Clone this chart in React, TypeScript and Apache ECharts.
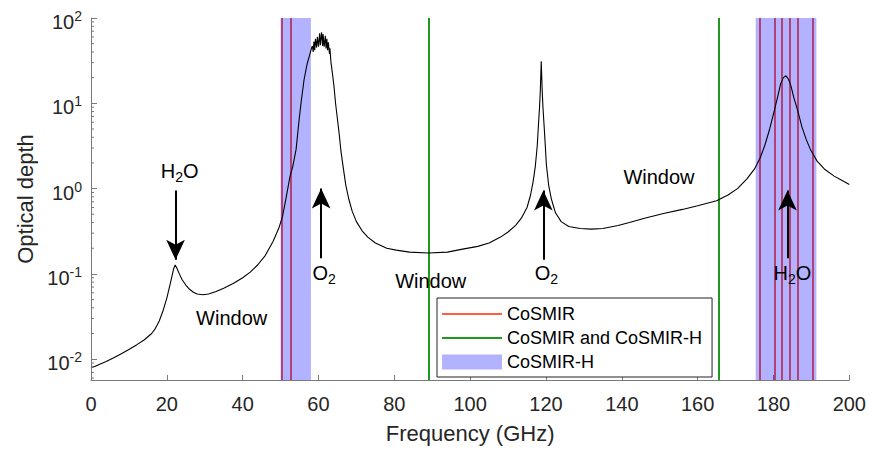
import React, { useEffect, useRef } from 'react';
import * as echarts from 'echarts';

// ---- data ----
const freq = [
  0, 1, 2, 4, 6, 8, 10, 12, 14, 16, 17, 18, 19, 20, 21, 21.8, 22.2, 22.6, 23.3, 24, 25, 26, 27, 28, 29.5, 31, 33, 35, 37.5,
  40, 42, 44, 46, 48, 49.5, 50.5, 51.5, 52.5, 53.2, 54.1, 54.9, 55.5, 56.2, 57, 57.6, 58.2,
  58.4, 58.6, 58.8, 59.0, 59.2, 59.5, 59.7, 60.0, 60.3, 60.5, 60.8, 61.1, 61.2, 61.5, 61.8, 62.0, 62.2, 62.4, 62.6, 62.9, 63.0,
  63.3, 63.7, 64.1, 64.5, 65, 65.5, 65.9, 66.5, 67.2, 68, 68.9, 70, 71.5, 73, 75, 78, 80.5, 84, 89, 94, 98, 102, 105, 108,
  110, 112, 113.5, 115, 115.9, 116.6, 117.2, 117.7, 118.0, 118.3, 118.5, 118.75, 119.0, 119.2, 119.5, 119.8, 120.1, 120.7,
  121.4, 122.5, 124, 126, 129, 132, 135, 139, 142, 146, 151, 156, 160, 165, 168, 170.5, 173, 175, 176.5, 177.7, 179, 180.3,
  181.2, 181.9, 182.6, 183.3, 184, 184.6, 185.4, 186.3, 187.5, 188.6, 189.7, 191.5, 193.4, 196, 198, 200,
];
const tau = [
  0.0080, 0.0082, 0.0086, 0.0094, 0.0104, 0.0116, 0.013, 0.0147, 0.0168, 0.020, 0.023, 0.028, 0.037, 0.052, 0.080, 0.115,
  0.127, 0.118, 0.100, 0.086, 0.074, 0.066, 0.061, 0.058, 0.057, 0.058, 0.062, 0.068, 0.077,
  0.090, 0.105, 0.128, 0.165, 0.24, 0.34, 0.47, 0.8, 1.4, 1.8, 2.9, 6.5, 11, 19, 29, 36, 45,
  47, 40, 53, 42, 57, 45, 60, 46, 66, 48, 68, 47, 65, 46, 62, 44, 57, 42, 52, 38, 44,
  30, 22, 15.5, 10, 6.5, 4.2, 2.8, 1.8, 1.1, 0.75, 0.54, 0.41, 0.32, 0.27, 0.23, 0.20, 0.19, 0.18, 0.176, 0.18, 0.195, 0.21,
  0.23, 0.27, 0.31, 0.37, 0.45, 0.6, 0.83, 1.2, 1.85, 3.2, 5.5, 9, 14, 31, 14, 9, 5.5, 3.3, 1.9, 1.1,
  0.76, 0.52, 0.41, 0.36, 0.34, 0.335, 0.34, 0.37, 0.40, 0.45, 0.51, 0.57, 0.63, 0.72, 0.84, 1.0, 1.3, 1.7, 2.3, 3.2, 5.0, 8.5,
  12.5, 17, 20, 21, 19, 16, 11.5, 8.5, 5.3, 3.8, 2.9, 2.1, 1.7, 1.4, 1.25, 1.12,
];
const cosmirFreqs = [50.3, 52.8, 176.31, 180.31, 182.31, 184.31, 186.31, 190.31];
const sharedFreqs = [89, 165.5];
const cosmirHBandStart = [50, 175.31];
const cosmirHBandEnd = [58, 191.31];
const yMinorTicks = [
  0.006, 0.007, 0.008, 0.009,
  0.02, 0.03, 0.04, 0.05, 0.06, 0.07, 0.08, 0.09,
  0.2, 0.3, 0.4, 0.5, 0.6, 0.7, 0.8, 0.9,
  2, 3, 4, 5, 6, 7, 8, 9,
  20, 30, 40, 50, 60, 70, 80, 90,
];
const arrowX = [22.3, 60.7, 119.3, 183.7];
const arrowFrom = [0.95, 0.153, 0.146, 0.153];
const arrowTo = [0.146, 1.0, 0.95, 0.95];
const labelText = ['{a|H}{s|2}{a|O}', '{a|O}{s|2}', '{a|O}{s|2}', '{a|H}{s|2}{a|O}', '{a|Window}', '{a|Window}', '{a|Window}'];
const labelX = [23.4, 61.5, 120.1, 185, 37.1, 89.6, 149.8];
const labelY = [1.62, 0.103, 0.103, 0.103, 0.0308, 0.083, 1.38];

const FONT = "'Liberation Sans', Arial, Helvetica, sans-serif";
const RED = '#ff5f3a';
const GREEN = '#1f9a1f';
const BAND = 'rgba(0,0,255,0.3)';
const AXIS = '#7a7a7a';
const TXT = '#262626';

export default function App() {
  const ref = useRef<HTMLDivElement>(null);
  useEffect(() => {
    document.body.style.margin = '0';
    const chart = echarts.init(ref.current!, undefined, { renderer: 'svg' });
    const labelRich = {
      a: { fontSize: 20, fontFamily: FONT, color: '#000' },
      s: { fontSize: 14, fontFamily: FONT, color: '#000', padding: [12, 0, 0, 0] },
    };
    chart.setOption({
      animation: false,
      grid: { left: 91, right: 17, top: 18, bottom: 66, containLabel: false },
      legend: {
        left: 437,
        top: 298,
        orient: 'vertical',
        selectedMode: false,
        backgroundColor: '#fff',
        borderColor: '#222',
        borderWidth: 1,
        borderRadius: 0,
        padding: [7, 10, 6, 5],
        itemGap: 6,
        itemWidth: 60,
        itemHeight: 15,
        textStyle: { fontSize: 18, fontFamily: FONT, color: '#000' },
        data: [
          { name: 'CoSMIR', icon: 'path://M0,0H60V2H0Z', itemStyle: { color: RED, borderWidth: 0 } },
          { name: 'CoSMIR and CoSMIR-H', icon: 'path://M0,0H60V2H0Z', itemStyle: { color: GREEN, borderWidth: 0 } },
          { name: 'CoSMIR-H', icon: 'rect', itemStyle: { color: BAND, borderWidth: 0 } },
        ],
      },
      xAxis: {
        type: 'value',
        min: 0,
        max: 200,
        interval: 20,
        name: 'Frequency (GHz)',
        nameLocation: 'middle',
        nameGap: 42,
        nameTextStyle: { fontSize: 22, fontFamily: FONT, color: TXT },
        axisLine: { show: true, onZero: false, lineStyle: { color: AXIS, width: 1 } },
        axisTick: { show: true, inside: true, length: 5, lineStyle: { color: AXIS } },
        axisLabel: { fontSize: 20, fontFamily: FONT, color: TXT, margin: 14 },
        splitLine: { show: false },
      },
      yAxis: {
        type: 'log',
        logBase: 10,
        min: 0.0057,
        max: 100,
        name: 'Optical depth',
        nameLocation: 'middle',
        nameGap: 52,
        nameTextStyle: { fontSize: 22, fontFamily: FONT, color: TXT },
        axisLine: { show: true, lineStyle: { color: AXIS, width: 1 } },
        axisTick: { show: true, inside: true, length: 6, lineStyle: { color: AXIS } },
        axisLabel: {
          showMinLabel: false,
          margin: 9,
          formatter: (v: number) => {
            const e = Math.round(Math.log10(v));
            if (Math.abs(Math.log10(v) - e) > 1e-6) return '';
            return '{b|10}{s|' + e + '}';
          },
          rich: {
            b: { fontSize: 20, fontFamily: FONT, color: TXT, padding: [8, 0, 0, 0] },
            s: { fontSize: 14, fontFamily: FONT, color: TXT, padding: [0, 0, 4, 0] },
          },
        },
        splitLine: { show: false },
      },
      series: [
        {
          name: 'CoSMIR',
          type: 'line',
          color: RED,
          data: [],
          z: 2,
          markLine: {
            silent: true,
            z: 2,
            symbol: 'none',
            label: { show: false },
            lineStyle: { color: RED, width: 2, type: 'solid' },
            emphasis: { disabled: true },
            data: cosmirFreqs.map((f) => ({ xAxis: f })),
          },
        },
        {
          name: 'CoSMIR and CoSMIR-H',
          type: 'line',
          color: GREEN,
          data: [],
          z: 2,
          markLine: {
            silent: true,
            z: 2,
            symbol: 'none',
            label: { show: false },
            lineStyle: { color: GREEN, width: 2, type: 'solid' },
            emphasis: { disabled: true },
            data: sharedFreqs.map((f) => ({ xAxis: f })),
          },
        },
        {
          name: 'CoSMIR-H',
          type: 'line',
          color: BAND,
          data: [],
          z: 3,
          markArea: {
            silent: true,
            z: 3,
            itemStyle: { color: BAND },
            emphasis: { disabled: true },
            data: cosmirHBandStart.map((s, i) => [{ xAxis: s }, { xAxis: cosmirHBandEnd[i] }]),
          },
        },
        {
          name: 'Optical depth',
          type: 'line',
          data: freq.map((f, i) => [f, tau[i]]),
          showSymbol: false,
          symbol: 'none',
          lineStyle: { color: '#000', width: 1.1 },
          color: '#000',
          z: 6,
          silent: true,
        },
        {
          name: 'annotations',
          type: 'line',
          data: [],
          z: 7,
          markLine: {
            silent: true,
            z: 7,
            symbol: ['none', 'arrow'],
            symbolSize: 16,
            label: { show: false },
            lineStyle: { color: '#000', width: 2, type: 'solid' },
            itemStyle: { color: '#000' },
            emphasis: { disabled: true },
            data: arrowX.map((x, i) => [
              { coord: [x, arrowFrom[i]], symbol: 'none' },
              { coord: [x, arrowTo[i]], symbol: 'arrow', symbolSize: [14, 20] },
            ]),
          },
          markPoint: {
            silent: true,
            z: 7,
            symbol: 'rect',
            symbolSize: 1,
            itemStyle: { color: 'rgba(0,0,0,0)' },
            label: { show: true, position: 'inside', rich: labelRich },
            data: labelX.map((x, i) => ({ coord: [x, labelY[i]], label: { formatter: labelText[i] } })),
          },
        },
        {
          name: 'minorTicks',
          type: 'custom',
          silent: true,
          z: 8,
          data: yMinorTicks.map((v) => [0, v]),
          renderItem: (params: any, api: any) => {
            const p = api.coord([0, api.value(1)]);
            return {
              type: 'line',
              shape: { x1: p[0], y1: p[1], x2: p[0] + 3, y2: p[1] },
              style: { stroke: AXIS, lineWidth: 1 },
            };
          },
        },
      ],
    });
    return () => chart.dispose();
  }, []);
  return <div ref={ref} style={{ width: 869, height: 449 }} />;
}
